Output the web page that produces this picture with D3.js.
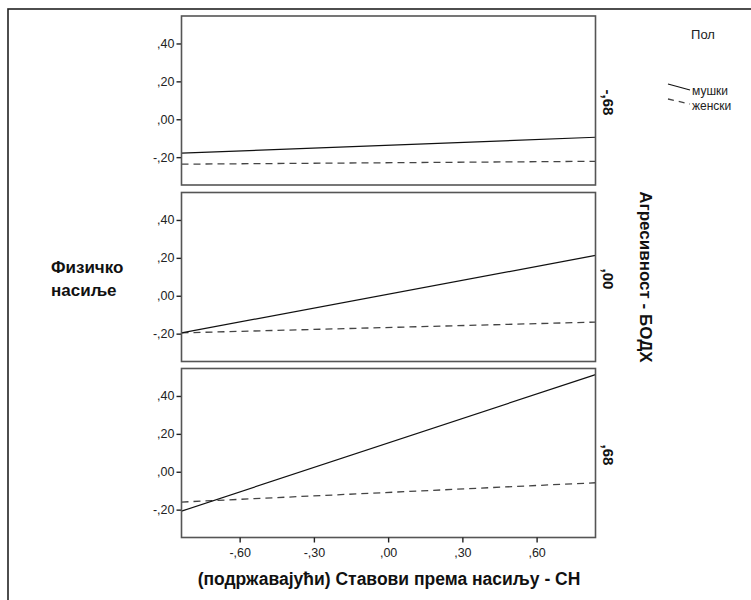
<!DOCTYPE html>
<html><head><meta charset="utf-8">
<script src="https://cdn.jsdelivr.net/npm/d3@7"></script>
<style>body{margin:0;background:#fff}svg{display:block}</style>
</head><body>
<script>
// Data
const xEnds = [-0.835, 0.838];
const panels = ["-,68", ",00", ",68"];
const maleVals = [[-0.179, -0.095], [-0.196, 0.213], [-0.208, 0.513]];
const femaleVals = [[-0.237, -0.222], [-0.196, -0.139], [-0.160, -0.058]];
const xTicks = [-0.6, -0.3, 0, 0.3, 0.6];
const xTickLabels = ["-,60", "-,30", ",00", ",30", ",60"];
const yTicks = [-0.2, 0, 0.2, 0.4];
const yTickLabels = ["-,20", ",00", ",20", ",40"];
const seriesNames = ["мушки", "женски"];

const W = 751, H = 600;
const svg = d3.select("body").append("svg").attr("width", W).attr("height", H);
const font = "Liberation Sans, Arial, sans-serif";

// outer frame
svg.append("rect").attr("x", 8).attr("y", 9).attr("width", 900).attr("height", 900)
  .attr("fill", "none").attr("stroke", "#222").attr("stroke-width", 1.6);

const left = 181.5, right = 595.5;
const panelTops = [16, 192.5, 368.5];
const panelH = 169;

const x = d3.scaleLinear().domain(xEnds).range([left, right]);

panels.forEach((lab, i) => {
  const top = panelTops[i];
  const y = d3.scaleLinear().domain([-0.347, 0.545]).range([top + panelH, top]);
  const g = svg.append("g");
  const ax = g.append("g").attr("transform", `translate(${left},0)`)
    .call(d3.axisLeft(y).tickValues(yTicks).tickFormat((d, j) => yTickLabels[j]).tickSize(5).tickPadding(2));
  ax.select(".domain").remove();
  ax.selectAll("line").attr("stroke", "#222").attr("stroke-width", 1.4);
  ax.selectAll("text").attr("font-family", font).attr("font-size", 12.5).attr("fill", "#222");

  const line = d3.line().x(d => x(d[0])).y(d => y(d[1]));
  const clipId = "clip" + i;
  svg.append("clipPath").attr("id", clipId).append("rect")
    .attr("x", left).attr("y", top).attr("width", right - left).attr("height", panelH);
  g.append("path").datum(xEnds.map((xv, k) => [xv, femaleVals[i][k]]))
    .attr("d", line).attr("fill", "none").attr("stroke", "#444").attr("stroke-width", 1.3)
    .attr("stroke-dasharray", "7,5").attr("clip-path", `url(#${clipId})`);
  g.append("path").datum(xEnds.map((xv, k) => [xv, maleVals[i][k]]))
    .attr("d", line).attr("fill", "none").attr("stroke", "#111").attr("stroke-width", 1.2)
    .attr("clip-path", `url(#${clipId})`);

  g.append("rect").attr("x", left).attr("y", top).attr("width", right - left).attr("height", panelH)
    .attr("fill", "none").attr("stroke", "#555").attr("stroke-width", 1.6);

  svg.append("text").attr("transform", `translate(${603},${top + panelH / 2 + 2}) rotate(90)`)
    .attr("text-anchor", "middle").attr("font-family", font).attr("font-weight", "bold")
    .attr("font-size", 15).attr("fill", "#111").text(lab);

  if (i === panels.length - 1) {
    const xa = svg.append("g").attr("transform", `translate(0,${top + panelH})`)
      .call(d3.axisBottom(x).tickValues(xTicks).tickFormat((d, j) => xTickLabels[j]).tickSize(5).tickPadding(6));
    xa.select(".domain").remove();
    xa.selectAll("line").attr("stroke", "#222").attr("stroke-width", 1.4);
    xa.selectAll("text").attr("font-family", font).attr("font-size", 12.5).attr("fill", "#222");
  }
});

// axis titles
svg.append("text").attr("x", 389).attr("y", 585).attr("text-anchor", "middle")
  .attr("font-family", font).attr("font-weight", "bold").attr("font-size", 17.5).attr("fill", "#111")
  .text("(подржавајући) Ставови према насиљу - СН");
const yl = svg.append("text").attr("font-family", font).attr("font-weight", "bold")
  .attr("font-size", 17).attr("fill", "#111");
yl.append("tspan").attr("x", 51).attr("y", 273).text("Физичко");
yl.append("tspan").attr("x", 51).attr("y", 296).text("насиље");
svg.append("text").attr("transform", `translate(640,277) rotate(90)`).attr("text-anchor", "middle")
  .attr("font-family", font).attr("font-weight", "bold").attr("font-size", 17).attr("fill", "#111")
  .text("Агресивност - БОДХ");

// legend
svg.append("text").attr("x", 703).attr("y", 39).attr("text-anchor", "middle")
  .attr("font-family", font).attr("font-size", 13).attr("fill", "#222").text("Пол");
const leg = svg.append("g");
leg.append("line").attr("x1", 668).attr("y1", 84).attr("x2", 690).attr("y2", 90)
  .attr("stroke", "#111").attr("stroke-width", 1.2);
leg.append("line").attr("x1", 668).attr("y1", 99).attr("x2", 690).attr("y2", 104)
  .attr("stroke", "#444").attr("stroke-width", 1.3).attr("stroke-dasharray", "6,5");
seriesNames.forEach((n, k) => {
  leg.append("text").attr("x", 692).attr("y", 95 + k * 15).attr("font-family", font)
    .attr("font-size", 12).attr("fill", "#222").text(n);
});
</script>
</body></html>
